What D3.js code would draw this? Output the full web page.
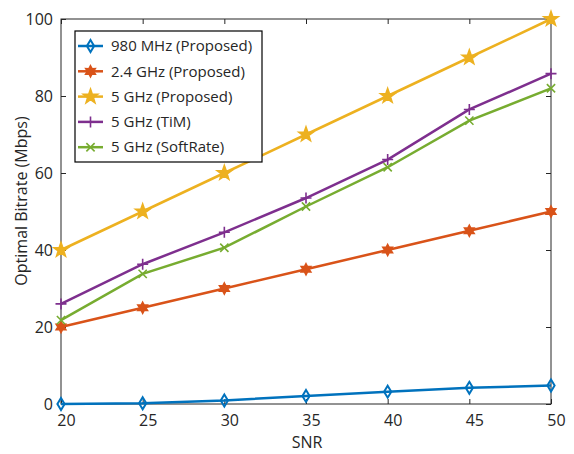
<!DOCTYPE html>
<html>
<head>
<meta charset="utf-8">
<script src="https://cdnjs.cloudflare.com/ajax/libs/d3/7.8.5/d3.min.js"></script>
<style>
  body { margin: 0; background: #fff; }
  text { font-family: "Open Sans", "Noto Sans", sans-serif; fill: #262626; }
</style>
</head>
<body>
<div id="chart"></div>
<script>
var snr = [20, 25, 30, 35, 40, 45, 50];
var mhz980 = [0, 0.2, 0.9, 2.1, 3.2, 4.2, 4.8];
var ghz24 = [20, 25, 30, 35, 40, 45, 50];
var ghz5 = [40, 50, 60, 70, 80, 90, 100];
var ghz5Tim = [26, 36.3, 44.6, 53.5, 63.5, 76.5, 85.8];
var ghz5Soft = [21.8, 33.8, 40.6, 51.3, 61.5, 73.6, 82];
var xTicks = [20, 25, 30, 35, 40, 45, 50];
var yTicks = [0, 20, 40, 60, 80, 100];

var series = [
  { name: "980 MHz (Proposed)", values: mhz980, color: "#0072BD", marker: "diamond" },
  { name: "2.4 GHz (Proposed)", values: ghz24, color: "#D95319", marker: "hexagram" },
  { name: "5 GHz (Proposed)", values: ghz5, color: "#EDB120", marker: "pentagram" },
  { name: "5 GHz (TiM)", values: ghz5Tim, color: "#7E2F8E", marker: "plus" },
  { name: "5 GHz (SoftRate)", values: ghz5Soft, color: "#77AC30", marker: "cross" }
];

var width = 574, height = 454,
    margin = { left: 61, top: 19, right: 23, bottom: 50 };
var pw = width - margin.left - margin.right,
    ph = height - margin.top - margin.bottom;

var svg = d3.select("#chart").append("svg")
    .attr("width", width)
    .attr("height", height);

var x = d3.scaleLinear().domain([20, 50]).range([0, pw]);
var y = d3.scaleLinear().domain([0, 100]).range([ph, 0]);

var g = svg.append("g")
    .attr("transform", "translate(" + margin.left + "," + margin.top + ")");

// axes, ticks pointing inwards, boxed
var axisColor = "#262626";
function styleAxis(sel) {
  sel.select(".domain").remove();
  sel.selectAll("line").attr("stroke", axisColor);
  sel.selectAll("text").style("font-size", "16px").attr("fill", axisColor);
}
g.append("g").attr("transform", "translate(0," + ph + ")")
  .call(d3.axisBottom(x).tickValues(xTicks).tickSizeInner(-5).tickSizeOuter(0).tickPadding(11))
  .call(styleAxis)
  .selectAll("text").attr("dx", 5);
g.append("g")
  .call(d3.axisLeft(y).tickValues(yTicks).tickSizeInner(-5).tickSizeOuter(0).tickPadding(8))
  .call(styleAxis);
g.append("g")
  .call(d3.axisTop(x).tickValues(xTicks).tickSizeInner(-5).tickSizeOuter(0).tickFormat(""))
  .call(styleAxis);
g.append("g").attr("transform", "translate(" + pw + ",0)")
  .call(d3.axisRight(y).tickValues(yTicks).tickSizeInner(-5).tickSizeOuter(0).tickFormat(""))
  .call(styleAxis);
g.append("rect").attr("width", pw).attr("height", ph)
  .attr("fill", "none").attr("stroke", axisColor).attr("stroke-width", 1);

// marker shapes
function markerPath(type, s) {
  var p = d3.path();
  if (type === "diamond") {
    p.moveTo(0, -s); p.lineTo(s * 0.6, 0); p.lineTo(0, s); p.lineTo(-s * 0.6, 0); p.closePath();
  } else if (type === "plus") {
    p.moveTo(-s, 0); p.lineTo(s, 0); p.moveTo(0, -s); p.lineTo(0, s);
  } else if (type === "cross") {
    var c = s * 0.75;
    p.moveTo(-c, -c); p.lineTo(c, c); p.moveTo(-c, c); p.lineTo(c, -c);
  } else {
    var n = type === "pentagram" ? 5 : 6;
    var inner = type === "pentagram" ? s * 0.4 : s * 0.55;
    for (var i = 0; i < n * 2; i++) {
      var r = i % 2 === 0 ? s : inner;
      var a = -Math.PI / 2 + i * Math.PI / n;
      if (i === 0) p.moveTo(r * Math.cos(a), r * Math.sin(a));
      else p.lineTo(r * Math.cos(a), r * Math.sin(a));
    }
    p.closePath();
  }
  return p.toString();
}
var markerSize = { diamond: 6, hexagram: 5.5, pentagram: 7.5, plus: 5.5, cross: 5.5 };
function drawMarker(sel, d) {
  sel.append("path")
    .attr("d", markerPath(d.marker, markerSize[d.marker]))
    .attr("fill", d.marker === "diamond" ? "none" : d.color)
    .attr("stroke", d.color)
    .attr("stroke-width", d.marker === "diamond" ? 2 : 1.6);
}

var line = d3.line()
  .x(function(d, i) { return x(snr[i]); })
  .y(function(d) { return y(d); });

series.forEach(function(s) {
  g.append("path")
    .datum(s.values)
    .attr("fill", "none")
    .attr("stroke", s.color)
    .attr("stroke-width", 2.5)
    .attr("d", line);
  s.values.forEach(function(v, i) {
    var m = g.append("g").attr("transform", "translate(" + x(snr[i]) + "," + y(v) + ")");
    drawMarker(m, s);
  });
});

// legend
var lg = svg.append("g").attr("transform", "translate(75,31)");
lg.append("rect").attr("width", 187).attr("height", 131)
  .attr("fill", "#fff").attr("stroke", "#000").attr("stroke-width", 1.2);
series.forEach(function(s, i) {
  var row = lg.append("g").attr("transform", "translate(0," + (15 + i * 25.3) + ")");
  row.append("line").attr("x1", 3).attr("x2", 28).attr("y1", 0).attr("y2", 0)
    .attr("stroke", s.color).attr("stroke-width", 2.5);
  var m = row.append("g").attr("transform", "translate(15.5,0)");
  drawMarker(m, s);
  row.append("text").attr("x", 36).attr("y", 0).attr("dy", "0.35em")
    .style("font-size", "15px").text(s.name);
});

// axis titles
svg.append("text")
  .attr("x", 307).attr("y", 448)
  .attr("text-anchor", "middle").style("font-size", "16px").text("SNR");
svg.append("text")
  .attr("transform", "translate(27,201) rotate(-90)")
  .attr("text-anchor", "middle").style("font-size", "16px").text("Optimal Bitrate (Mbps)");
</script>
</body>
</html>
